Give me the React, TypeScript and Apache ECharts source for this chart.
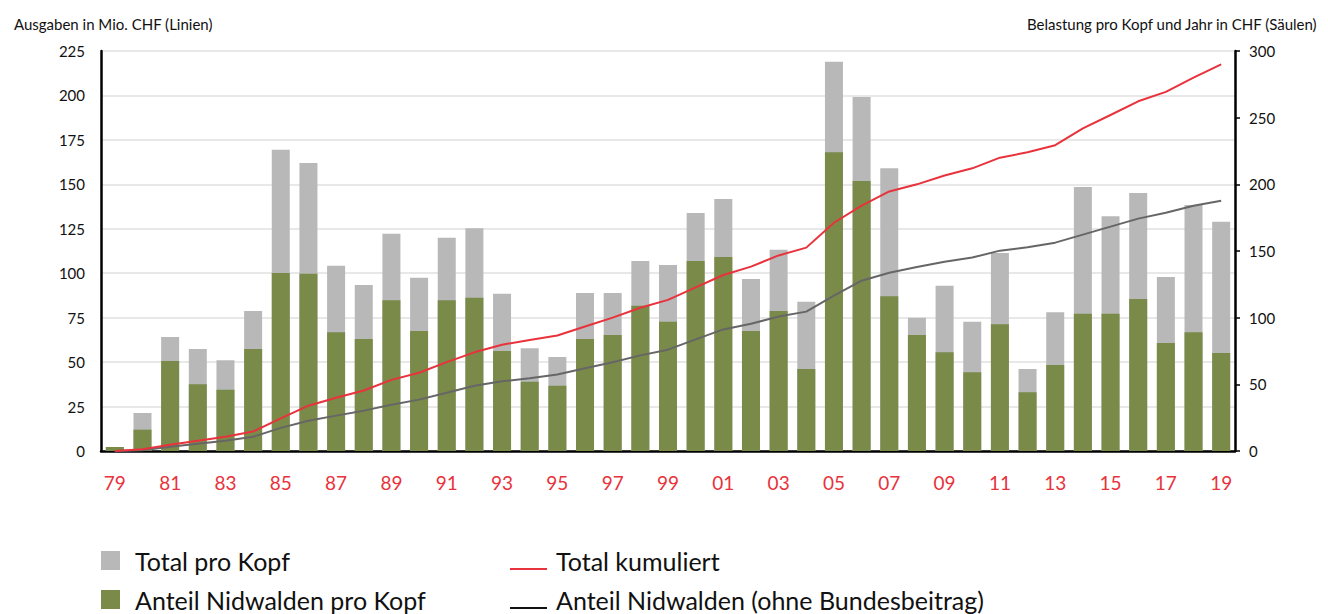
import React, { useEffect, useRef } from "react";
import * as echarts from "echarts";

const years = ['79','80','81','82','83','84','85','86','87','88','89','90','91','92','93','94','95','96','97','98','99','00','01','02','03','04','05','06','07','08','09','10','11','12','13','14','15','16','17','18','19'];

// Säulen (rechte Achse, CHF pro Kopf)
const totalProKopf = [3, 28.5, 85.5, 76.5, 68, 105, 226, 216, 139, 124.5, 163, 130, 160, 167, 118, 77, 70.5, 118.5, 118.5, 142.5, 139.5, 178.5, 189, 129, 151, 112, 292, 265.5, 212, 100, 124, 97, 148.5, 61.5, 104, 198, 176, 193.5, 130.5, 184.5, 172];
const anteilProKopf = [3, 16, 67.5, 50, 46, 76.5, 133.5, 133, 89, 84, 113, 90, 113, 115, 75, 52, 49, 84, 87, 109, 97, 142.5, 145.5, 90, 105, 61.5, 224, 202.5, 116, 87, 74, 59, 95, 44, 64.5, 103, 103, 114, 81, 89, 73.5];

// Linien (linke Achse, Mio. CHF)
const totalKumuliert = [0, 1, 3.5, 5.8, 8, 11, 18.4, 25.5, 30, 34, 40, 44, 50, 55.5, 59.8, 62.4, 65, 70, 75, 80.6, 85, 92, 99, 103.7, 110, 114.4, 128.4, 138, 146, 150, 155, 159, 165, 168, 172, 181.5, 189, 196.7, 202, 210, 217.5];
const anteilKumuliert = [0, 0.4, 2.4, 4.1, 5.8, 8, 13, 17, 19.9, 22.7, 26, 28.9, 32.8, 36.7, 39.2, 40.9, 43, 46.5, 49.9, 53.8, 57, 62.8, 68.4, 71.6, 75.6, 78.4, 87.4, 95.8, 100.3, 103.5, 106.5, 108.8, 112.7, 114.6, 117.2, 121.7, 126.2, 130.7, 134, 138, 140.8];

const FONT = "Lato, 'Open Sans', sans-serif";
const GREY = "#b7b8b7";
const GREEN = "#7a8a48";
const RED = "#e8323c";
const DARK = "#666666";
const LINE_ICON = "path://M0,0 M0,17 L37,17 L37,19 L0,19 Z";

export default function App() {
  const ref = useRef<HTMLDivElement>(null);
  useEffect(() => {
    document.body.style.margin = "0";
    const chart = echarts.init(ref.current!, null, { renderer: "svg" });
    chart.setOption({
      animation: false,
      textStyle: { fontFamily: FONT },
      title: [
        { text: "Ausgaben in Mio. CHF (Linien)", left: 9, top: 11, textStyle: { fontFamily: FONT, fontSize: 15, fontWeight: "normal", color: "#111" } },
        { text: "Belastung pro Kopf und Jahr in CHF (Säulen)", right: 5, top: 11, textStyle: { fontFamily: FONT, fontSize: 15, fontWeight: "normal", color: "#111" } },
      ],
      legend: [
        {
          orient: "vertical", left: 101, top: 548, height: 90, padding: 0,
          itemWidth: 19, itemHeight: 19, itemGap: 14,
          textStyle: { fontFamily: FONT, fontSize: 25, lineHeight: 25, color: "#111", padding: [0, 0, 0, 10] },
          data: [{ name: "Total pro Kopf", icon: "rect" }, { name: "Anteil Nidwalden pro Kopf", icon: "rect" }],
          selectedMode: false,
        },
        {
          orient: "vertical", left: 510, top: 548, height: 90, padding: 0,
          itemWidth: 37, itemHeight: 19, itemGap: 14,
          textStyle: { fontFamily: FONT, fontSize: 25, lineHeight: 25, color: "#111", padding: [0, 0, 0, 4] },
          data: [{ name: "Total kumuliert", icon: LINE_ICON }, { name: "Anteil Nidwalden (ohne Bundesbeitrag)", icon: LINE_ICON, itemStyle: { color: "#111" } }],
          selectedMode: false,
        },
      ],
      grid: { left: 101, right: 93, top: 51, bottom: 163 },
      xAxis: {
        type: "category",
        data: years,
        boundaryGap: true,
        axisLine: { lineStyle: { color: "#000", width: 2.5 } },
        axisTick: { alignWithLabel: true, interval: 1, length: 6, lineStyle: { color: "#000", width: 2 } },
        axisLabel: { interval: 1, color: RED, fontSize: 19, margin: 22, fontFamily: FONT },
      },
      yAxis: [
        {
          type: "value", min: 0, max: 225, interval: 25, position: "left",
          axisLine: { show: true, lineStyle: { color: "#000", width: 2.5 } },
          axisTick: { show: false },
          axisLabel: { color: "#111", fontSize: 15, margin: 16, fontFamily: FONT },
          splitLine: { show: true, lineStyle: { color: "#e0e0e0", width: 1.5 } },
        },
        {
          type: "value", min: 0, max: 300, interval: 50, position: "right",
          axisLine: { show: true, lineStyle: { color: "#000", width: 2.5 } },
          axisTick: { show: true, length: 5, lineStyle: { color: "#000", width: 1.5 } },
          axisLabel: { color: "#111", fontSize: 15, margin: 14, fontFamily: FONT },
          splitLine: { show: false },
        },
      ],
      series: [
        { name: "Total pro Kopf", type: "bar", yAxisIndex: 1, data: totalProKopf, barWidth: 18, itemStyle: { color: GREY }, z: 2 },
        { name: "Anteil Nidwalden pro Kopf", type: "bar", yAxisIndex: 1, data: anteilProKopf, barWidth: 18, barGap: "-100%", itemStyle: { color: GREEN }, z: 3 },
        { name: "Total kumuliert", type: "line", yAxisIndex: 0, data: totalKumuliert, showSymbol: false, symbol: "none", lineStyle: { color: RED, width: 2 }, itemStyle: { color: RED }, z: 5 },
        { name: "Anteil Nidwalden (ohne Bundesbeitrag)", type: "line", yAxisIndex: 0, data: anteilKumuliert, showSymbol: false, symbol: "none", lineStyle: { color: DARK, width: 2 }, itemStyle: { color: DARK }, z: 4 },
      ],
    });
    return () => chart.dispose();
  }, []);
  return <div ref={ref} style={{ width: 1328, height: 614 }} />;
}
